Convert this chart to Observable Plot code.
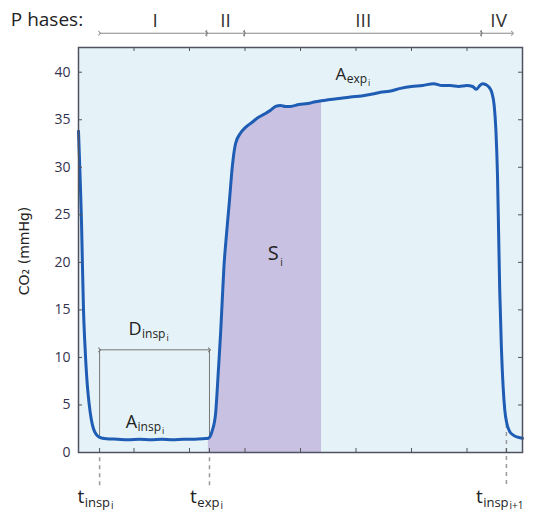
<!DOCTYPE html>
<html>
<head>
<meta charset="utf-8">
<script src="https://cdn.jsdelivr.net/npm/d3@7"></script>
<script src="https://cdn.jsdelivr.net/npm/@observablehq/plot@0.6"></script>
<style>
  body { margin: 0; background: #fff; }
  svg { font-family: "Open Sans", "DejaVu Sans", sans-serif; }
</style>
</head>
<body>
<div id="chart"></div>
<script>
// CO2 capnogram: time (x, arbitrary units) vs CO2 (mmHg)
const curveX = [0,0.02,0.04,0.055,0.07,0.09,0.11,0.13,0.16,0.19,0.23,0.27,0.32,0.38,0.5,0.7,0.9,1.1,1.3,1.5,1.7,1.9,2.1,2.25,2.34,
  2.41,2.47,2.52,2.56,2.59,2.62,2.66,2.72,2.77,2.83,2.92,3.01,3.12,3.23,3.35,3.46,3.55,3.64,3.73,3.82,3.97,4.13,4.27,4.38,
  4.5,4.65,4.9,5.1,5.3,5.44,5.6,5.8,6.0,6.2,6.4,6.55,6.7,6.85,7.0,7.1,7.17,7.23,7.28,7.34,7.4,7.45,7.49,7.52,7.55,7.57,7.59,7.62,7.65,7.68,7.72,7.77,7.84,7.92,8.0];
const curveY = [33.8,30.5,27,24,20,15,12,9.7,7,5.2,3.5,2.5,1.9,1.6,1.45,1.4,1.35,1.4,1.35,1.4,1.35,1.4,1.4,1.45,1.5,
  2.3,4.1,8.6,12.5,16,19.5,22.5,26.5,30,32.5,33.6,34.2,34.7,35.2,35.6,36,36.4,36.5,36.4,36.4,36.6,36.7,36.9,37,
  37.1,37.2,37.4,37.5,37.7,37.9,38.0,38.3,38.5,38.6,38.8,38.6,38.6,38.5,38.6,38.5,38.2,38.6,38.8,38.7,38.4,37.8,36.5,34,29,23,17,11,7,4.5,3,2.2,1.8,1.6,1.5];
const curve = curveX.map((x, i) => ({x, y: curveY[i]}));

const shadeStart = 2.34, shadeEnd = 4.38;            // S_i region
const yTicks = [0, 5, 10, 15, 20, 25, 30, 35, 40];
const xTicks = [1, 2, 3, 4, 5, 6, 7];

// phases
const phaseBounds = [0.38, 2.31, 2.99, 7.26, 7.82];
const phaseNames = ["I", "II", "III", "IV"];
const phaseLabelX = [1.38, 2.65, 5.13, 7.57];
const phaseY = 44.1;

// event times
const tInsp = 0.38, tExp = 2.36, tInspNext = 7.71;
const plateauLow = 1.5, bracketY = 10.8;

// labels: main letter, subscript, sub-subscript, position
const labels = [
  {main: "A", sub: "exp",  subsub: "i",   x: 4.63, y: 39.2, size: 17},
  {main: "S", sub: "",     subsub: "i",   x: 3.41, y: 20.3, size: 20},
  {main: "D", sub: "insp", subsub: "i",   x: 0.90, y: 12.4, size: 18},
  {main: "A", sub: "insp", subsub: "i",   x: 0.85, y: 2.6,  size: 18},
  {main: "t", sub: "insp", subsub: "i",   x: -0.02, y: -5.35, size: 19},
  {main: "t", sub: "exp",  subsub: "i",   x: 2.01, y: -5.35, size: 19},
  {main: "t", sub: "insp", subsub: "i+1", x: 7.16, y: -5.35, size: 19}
];

const W = 536, H = 511;
const mL = 78, mR = 14, mT = 47, mB = 59;
const plotW = W - mL - mR, plotH = H - mT - mB;

const bg = "#e5f3f8", purple = "#c9c1e1", blue = "#1f5cb4", gray = "#8a8a8a", ink = "#222";

// estimate text widths for subscripts
function tw(s, size) {
  const c = document.createElement("canvas").getContext("2d");
  c.font = `${size}px "Open Sans"`;
  return c.measureText(s).width;
}
const subMarks = [];
labels.forEach(l => {
  const mw = tw(l.main, l.size);
  const subSize = Math.round(l.size * 0.68);
  const ssSize = Math.round(l.size * 0.5);
  const sw = tw(l.sub, subSize);
  subMarks.push(Plot.text([l], {x: "x", y: "y", text: d => d.main, textAnchor: "start", lineAnchor: "bottom", fontSize: l.size, fill: ink}));
  if (l.sub) subMarks.push(Plot.text([l], {x: "x", y: "y", text: d => d.sub, textAnchor: "start", lineAnchor: "bottom", fontSize: subSize, fill: ink, dx: mw + 0.5, dy: 3.5}));
  subMarks.push(Plot.text([l], {x: "x", y: "y", text: d => d.subsub, textAnchor: "start", lineAnchor: "bottom", fontSize: ssSize, fill: ink, dx: mw + sw + 1.5, dy: 6}));
});

const segments = phaseBounds.slice(0, -1).map((a, i) => ({a, b: phaseBounds[i + 1]}));

const plot = Plot.plot({
  width: W, height: H,
  marginLeft: mL, marginRight: mR, marginTop: mT, marginBottom: mB,
  x: {domain: [0, 8], axis: null},
  y: {domain: [0, 42.6], axis: null},
  style: {background: "#fff", overflow: "visible"},
  marks: [
    Plot.frame({fill: bg}),
    Plot.areaY(curve.filter(d => d.x >= shadeStart && d.x <= shadeEnd), {x: "x", y: "y", fill: purple}),
    // D bracket
    Plot.link([tInsp, tExp], {x1: d => d, x2: d => d, y1: plateauLow, y2: bracketY, stroke: "#777", strokeWidth: 1}),
    Plot.link([{a: tInsp, b: tExp}], {x1: "a", x2: "b", y1: bracketY, y2: bracketY, stroke: "#777", strokeWidth: 1, markerStart: "arrow", markerEnd: "arrow"}),
    // dashed time lines
    Plot.link([tInsp, tExp], {x1: d => d, x2: d => d, y1: -0.5, y2: -3.6, stroke: "#9a9a9a", strokeWidth: 1.5, strokeDasharray: "4,4"}),
    Plot.link([tInspNext], {x1: d => d, x2: d => d, y1: 3.0, y2: -3.6, stroke: "#9a9a9a", strokeWidth: 1.5, strokeDasharray: "4,4"}),
    Plot.line(curve, {x: "x", y: "y", stroke: blue, strokeWidth: 3, curve: "monotone-x"}),
    // inward ticks
    Plot.tickY(yTicks, {y: d => d, insetRight: plotW - 4, stroke: "#555"}),
    Plot.tickY(yTicks, {y: d => d, insetLeft: plotW - 4, stroke: "#555"}),
    Plot.tickX(xTicks, {x: d => d, insetBottom: plotH - 4, stroke: "#555"}),
    Plot.tickX(xTicks, {x: d => d, insetTop: plotH - 4, stroke: "#555"}),
    Plot.tickX([tInsp, tExp, tInspNext], {x: d => d, insetTop: plotH - 4, stroke: "#555"}),
    Plot.frame({stroke: "#4f5260", strokeWidth: 1.5}),
    // y tick labels
    Plot.text(yTicks, {frameAnchor: "left", y: d => d, text: d => String(d), textAnchor: "end", dx: -8, fontSize: 14, fill: "#33334f"}),
    Plot.text(["CO₂ (mmHg)"], {x: 0, y: 21.2, text: d => d, rotate: -90, dx: -54, fontSize: 14, fill: ink, fontFamily: "DejaVu Sans"}),
    // phases
    Plot.link(segments, {x1: "a", x2: "b", y1: phaseY, y2: phaseY, stroke: gray, strokeWidth: 1, markerStart: "arrow", markerEnd: "arrow"}),
    Plot.link(phaseBounds.slice(1, -1), {x1: d => d, x2: d => d, y1: phaseY - 0.35, y2: phaseY + 0.35, stroke: gray, strokeWidth: 1}),
    Plot.text(phaseNames, {x: (d, i) => phaseLabelX[i], y: phaseY, text: d => d, lineAnchor: "bottom", dy: -6, fontSize: 19, fill: "#333"}),
    Plot.text(["P hases:"], {x: -1.22, y: phaseY, text: d => d, textAnchor: "start", lineAnchor: "bottom", dy: -7, fontSize: 19, fill: ink}),
    ...subMarks
  ]
});
document.getElementById("chart").appendChild(plot);
</script>
</body>
</html>
